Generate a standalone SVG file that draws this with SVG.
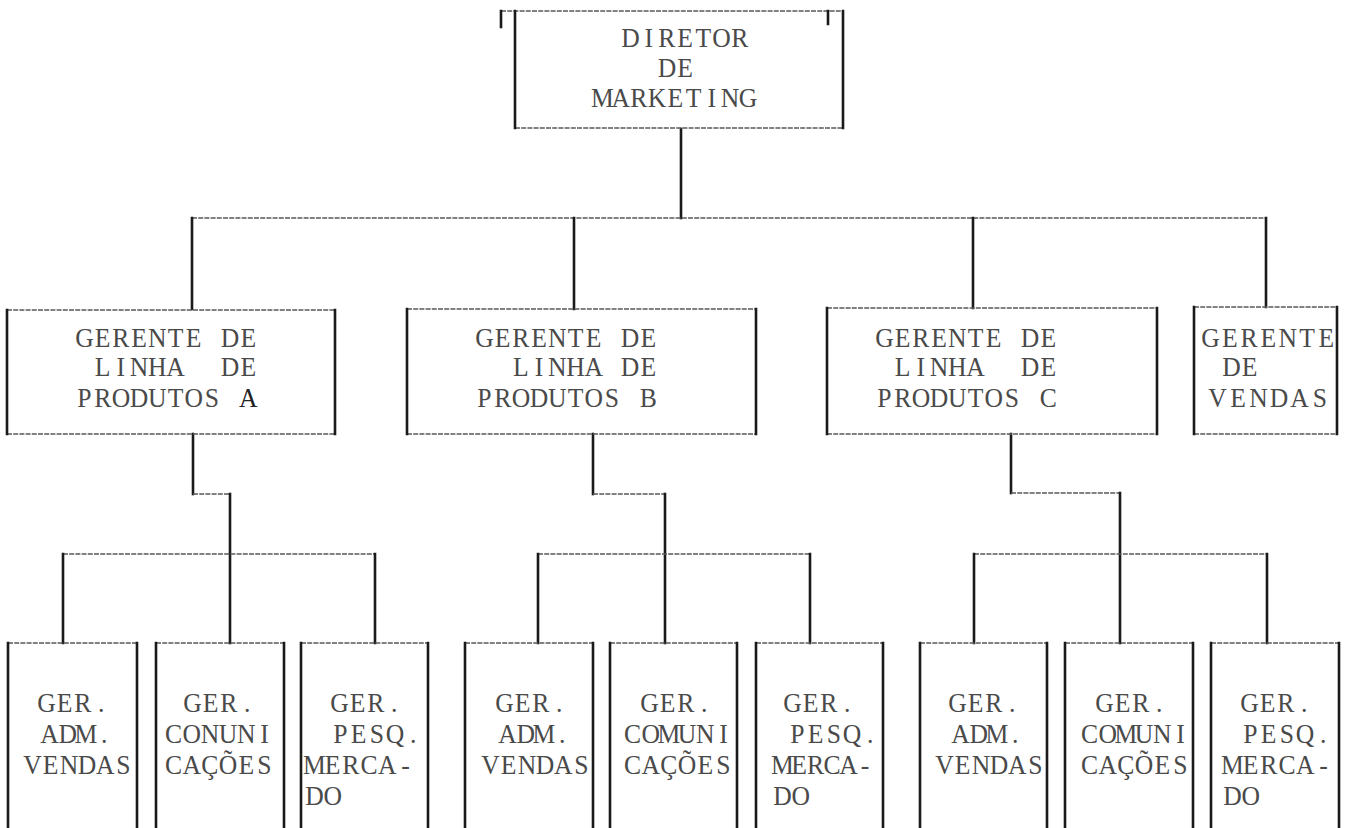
<svg xmlns="http://www.w3.org/2000/svg" width="1347" height="828" viewBox="0 0 1347 828">
  <style>
    .v { stroke: #1a1a1a; stroke-width: 2.6; fill: none; stroke-linecap: square; }
    .h { stroke: #5a5a5a; stroke-width: 1.3; fill: none; stroke-dasharray: 5 1.2; }
    .t { font-family: "Liberation Serif", "DejaVu Serif", serif; font-size: 27px; fill: #4a4a4a; text-anchor: middle; }
  </style>
  <rect width="1347" height="828" fill="#ffffff"/>

  <!-- connectors -->
  <g id="connectors">
    <!-- director to first level -->
    <path class="v" d="M681 129 V218"/>
    <path class="h" d="M192 218 H1266"/>
    <path class="v" d="M192 218 V309 M574 218 V309 M973 218 V308 M1266 218 V307"/>
    <!-- line A to its three units -->
    <path class="v" d="M193 434 V494"/>
    <path class="h" d="M193 494 H230"/>
    <path class="v" d="M230 494 V643"/>
    <path class="h" d="M63 554 H375"/>
    <path class="v" d="M63 554 V643 M375 554 V643"/>
    <!-- line B to its three units -->
    <path class="v" d="M593 434 V494"/>
    <path class="h" d="M593 494 H665"/>
    <path class="v" d="M665 494 V643"/>
    <path class="h" d="M538 554 H810"/>
    <path class="v" d="M538 554 V643 M810 554 V643"/>
    <!-- line C to its three units -->
    <path class="v" d="M1011 434 V493"/>
    <path class="h" d="M1011 493 H1120"/>
    <path class="v" d="M1120 493 V643"/>
    <path class="h" d="M974 554 H1267"/>
    <path class="v" d="M974 554 V643 M1267 554 V643"/>
  </g>

  <!-- typewriter text: one glyph per fixed cell, glyphs centred in their cells -->

  <!-- top: director -->
  <g id="diretor">
    <path class="h" d="M501 11 H843 M515 128 H843"/>
    <path class="v" d="M515 11 V128 M843 11 V128 M501 11 V27 M828 11 V24"/>
    <text class="t" transform="translate(630.5 47) scale(.95 1)" x="0 19.16 38.32 57.47 76.63 95.79 114.95">DIRETOR</text>
    <text class="t" transform="translate(667 77) scale(.95 1)" x="0 19.16">DE</text>
    <text class="t" transform="translate(602.5 107) scale(.95 1)" x="0 19.16 38.32 57.47 76.63 95.79 114.95 134.11 153.26">MARKETING</text>
  </g>

  <!-- first level -->
  <g id="gerente-a">
    <path class="h" d="M7 310 H335 M7 434 H335"/>
    <path class="v" d="M7 310 V434 M335 310 V434"/>
    <text class="t" transform="translate(84.5 347) scale(.95 1)" x="0 19.16 38.32 57.47 76.63 95.79 114.95 134.11 153.26 172.42">GERENTE DE</text>
    <text class="t" transform="translate(84.5 376) scale(.95 1)" x="19.16 38.32 57.47 76.63 95.79 114.95 153.26 172.42">LINHA DE</text>
    <text class="t" transform="translate(84.5 407) scale(.95 1)" x="0 19.16 38.32 57.47 76.63 95.79 114.95 134.11 153.26 172.42">PRODUTOS <tspan fill="#222">A</tspan></text>
  </g>
  <g id="gerente-b">
    <path class="h" d="M407 309 H756 M407 434 H756"/>
    <path class="v" d="M407 309 V434 M756 309 V434"/>
    <text class="t" transform="translate(484.5 347) scale(.95 1)" x="0 19.16 38.32 57.47 76.63 95.79 114.95 134.11 153.26 172.42">GERENTE DE</text>
    <text class="t" transform="translate(484.5 376) scale(.95 1)" x="38.32 57.47 76.63 95.79 114.95 134.11 153.26 172.42">LINHA DE</text>
    <text class="t" transform="translate(484.5 407) scale(.95 1)" x="0 19.16 38.32 57.47 76.63 95.79 114.95 134.11 153.26 172.42">PRODUTOS B</text>
  </g>
  <g id="gerente-c">
    <path class="h" d="M827 308 H1157 M827 434 H1157"/>
    <path class="v" d="M827 308 V434 M1157 308 V434"/>
    <text class="t" transform="translate(884.5 347) scale(.95 1)" x="0 19.16 38.32 57.47 76.63 95.79 114.95 134.11 153.26 172.42">GERENTE DE</text>
    <text class="t" transform="translate(884.5 376) scale(.95 1)" x="19.16 38.32 57.47 76.63 95.79 114.95 153.26 172.42">LINHA DE</text>
    <text class="t" transform="translate(884.5 407) scale(.95 1)" x="0 19.16 38.32 57.47 76.63 95.79 114.95 134.11 153.26 172.42">PRODUTOS C</text>
  </g>
  <g id="gerente-vendas">
    <path class="h" d="M1194 307 H1337 M1194 434 H1337"/>
    <path class="v" d="M1194 307 V434 M1337 307 V434"/>
    <text class="t" transform="translate(1210.5 347) scale(.95 1)" x="0 20.32 40.63 60.95 81.26 101.58 121.89">GERENTE</text>
    <text class="t" transform="translate(1231.5 376) scale(.95 1)" x="0 19.16">DE</text>
    <text class="t" transform="translate(1217.5 407) scale(.95 1)" x="0 21.58 43.16 64.74 86.32 107.89">VENDAS</text>
  </g>

  <!-- second level, line A -->
  <g id="a-adm-vendas">
    <path class="h" d="M8 643 H137"/>
    <path class="v" d="M8 643 V830 M137 643 V830"/>
    <text class="t" transform="translate(46.5 712) scale(.95 1)" x="0 19.16 38.32 57.47">GER.</text>
    <text class="t" transform="translate(49.5 743) scale(.95 1)" x="0 19.16 38.32 57.47">ADM.</text>
    <text class="t" transform="translate(32.5 774) scale(.95 1)" x="0 19.16 38.32 57.47 76.63 95.79">VENDAS</text>
  </g>
  <g id="a-comunicacoes">
    <path class="h" d="M156 643 H284"/>
    <path class="v" d="M156 643 V830 M284 643 V830"/>
    <text class="t" transform="translate(192.5 712) scale(.95 1)" x="0 19.16 38.32 57.47">GER.</text>
    <text class="t" transform="translate(173.5 743) scale(.95 1)" x="0 19.16 38.32 57.47 76.63 95.79">CONUNI</text>
    <text class="t" transform="translate(173.5 774) scale(.95 1)" x="0 19.16 38.32 57.47 76.63 95.79">CAÇÕES</text>
  </g>
  <g id="a-pesq-mercado">
    <path class="h" d="M301 643 H428"/>
    <path class="v" d="M301 643 V830 M428 643 V830"/>
    <text class="t" transform="translate(339.5 712) scale(.95 1)" x="0 19.16 38.32 57.47">GER.</text>
    <text class="t" transform="translate(340.5 743) scale(.95 1)" x="0 19.16 38.32 57.47 76.63">PESQ.</text>
    <text class="t" transform="translate(314.5 774) scale(.95 1)" x="0 19.16 38.32 57.47 76.63 95.79">MERCA-</text>
    <text class="t" transform="translate(314.5 805) scale(.95 1)" x="0 19.16">DO</text>
  </g>

  <!-- second level, line B -->
  <g id="b-adm-vendas">
    <path class="h" d="M465 643 H593"/>
    <path class="v" d="M465 643 V830 M593 643 V830"/>
    <text class="t" transform="translate(504.5 712) scale(.95 1)" x="0 19.16 38.32 57.47">GER.</text>
    <text class="t" transform="translate(507.5 743) scale(.95 1)" x="0 19.16 38.32 57.47">ADM.</text>
    <text class="t" transform="translate(490.5 774) scale(.95 1)" x="0 19.16 38.32 57.47 76.63 95.79">VENDAS</text>
  </g>
  <g id="b-comunicacoes">
    <path class="h" d="M610 643 H737"/>
    <path class="v" d="M610 643 V830 M737 643 V830"/>
    <text class="t" transform="translate(649.5 712) scale(.95 1)" x="0 19.16 38.32 57.47">GER.</text>
    <text class="t" transform="translate(632.5 743) scale(.95 1)" x="0 19.16 38.32 57.47 76.63 95.79">COMUNI</text>
    <text class="t" transform="translate(632.5 774) scale(.95 1)" x="0 19.16 38.32 57.47 76.63 95.79">CAÇÕES</text>
  </g>
  <g id="b-pesq-mercado">
    <path class="h" d="M756 643 H883"/>
    <path class="v" d="M756 643 V830 M883 643 V830"/>
    <text class="t" transform="translate(792.5 712) scale(.95 1)" x="0 19.16 38.32 57.47">GER.</text>
    <text class="t" transform="translate(797.5 743) scale(.95 1)" x="0 19.16 38.32 57.47 76.63">PESQ.</text>
    <text class="t" transform="translate(782.5 774) scale(.95 1)" x="0 17.37 34.74 52.11 69.47 86.84">MERCA-</text>
    <text class="t" transform="translate(782.5 805) scale(.95 1)" x="0 19.16">DO</text>
  </g>

  <!-- second level, line C -->
  <g id="c-adm-vendas">
    <path class="h" d="M920 643 H1047"/>
    <path class="v" d="M920 643 V830 M1047 643 V830"/>
    <text class="t" transform="translate(957.5 712) scale(.95 1)" x="0 19.16 38.32 57.47">GER.</text>
    <text class="t" transform="translate(960.5 743) scale(.95 1)" x="0 19.16 38.32 57.47">ADM.</text>
    <text class="t" transform="translate(944.5 774) scale(.95 1)" x="0 19.16 38.32 57.47 76.63 95.79">VENDAS</text>
  </g>
  <g id="c-comunicacoes">
    <path class="h" d="M1065 643 H1193"/>
    <path class="v" d="M1065 643 V830 M1193 643 V830"/>
    <text class="t" transform="translate(1104.5 712) scale(.95 1)" x="0 19.16 38.32 57.47">GER.</text>
    <text class="t" transform="translate(1089.5 743) scale(.95 1)" x="0 19.16 38.32 57.47 76.63 95.79">COMUNI</text>
    <text class="t" transform="translate(1089.5 774) scale(.95 1)" x="0 19.16 38.32 57.47 76.63 95.79">CAÇÕES</text>
  </g>
  <g id="c-pesq-mercado">
    <path class="h" d="M1211 643 H1339"/>
    <path class="v" d="M1211 643 V830 M1339 643 V830"/>
    <text class="t" transform="translate(1249.5 712) scale(.95 1)" x="0 19.16 38.32 57.47">GER.</text>
    <text class="t" transform="translate(1250.5 743) scale(.95 1)" x="0 19.16 38.32 57.47 76.63">PESQ.</text>
    <text class="t" transform="translate(1232.5 774) scale(.95 1)" x="0 19.16 38.32 57.47 76.63 95.79">MERCA-</text>
    <text class="t" transform="translate(1232.5 805) scale(.95 1)" x="0 19.16">DO</text>
  </g>
</svg>
